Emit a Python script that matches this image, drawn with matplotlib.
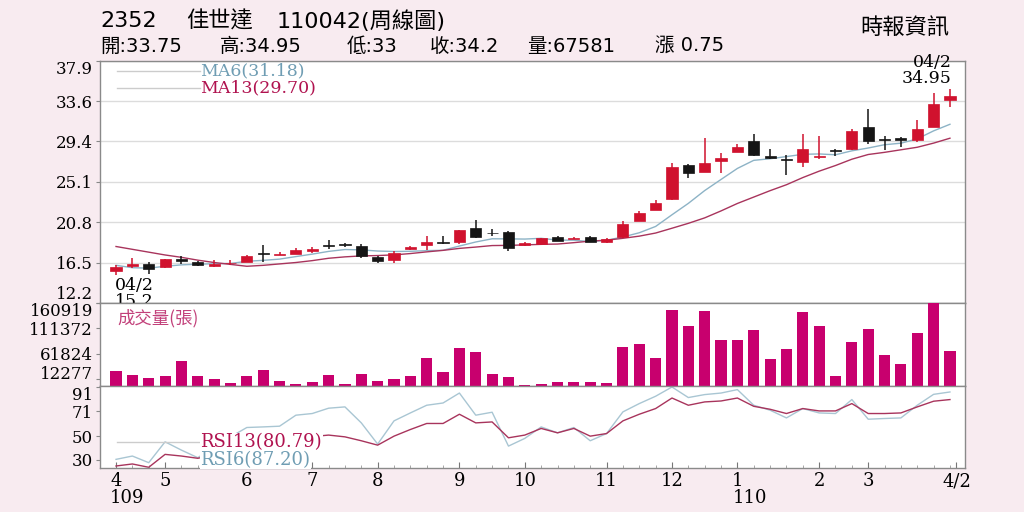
import numpy as np
import matplotlib
matplotlib.use("Agg")
import matplotlib.pyplot as plt
from matplotlib.transforms import blended_transform_factory

# ---- weekly candles (2352 佳世達, 109/04 ~ 110/04/02) ----
opens = [15.6, 16.15, 16.3, 16.0, 16.85, 16.6, 16.15, 16.4, 16.6, 17.5, 17.35, 17.45, 17.75,
         18.3, 18.4, 18.25, 17.1, 16.8, 17.9, 18.35, 18.7, 18.7, 20.15, 19.65, 19.75, 18.35,
         18.45, 19.25, 19.0, 19.2, 18.7, 19.2, 20.95, 22.1, 23.2, 26.85, 26.15, 27.3, 28.25,
         29.45, 27.85, 27.45, 27.2, 27.75, 28.4, 28.55, 30.9, 29.55, 29.75, 29.5, 30.9, 33.75]
highs = [16.25, 16.95, 16.6, 16.9, 17.2, 16.7, 16.8, 16.8, 17.3, 18.35, 17.6, 18.0, 18.15,
         18.9, 18.6, 18.5, 17.15, 17.75, 18.3, 19.35, 19.3, 19.95, 21.0, 20.1, 19.8, 18.65,
         19.15, 19.3, 19.25, 19.3, 19.15, 20.95, 22.0, 23.1, 27.1, 27.0, 29.7, 28.1, 29.1,
         30.2, 28.6, 27.9, 30.2, 29.9, 28.6, 30.7, 32.75, 29.9, 29.8, 31.6, 34.5, 34.95]
lows = [15.2, 15.9, 15.25, 15.95, 16.35, 16.1, 16.0, 16.2, 16.55, 16.6, 17.25, 17.4, 17.5,
        17.95, 18.2, 17.0, 16.4, 16.5, 17.8, 17.85, 18.45, 18.5, 19.05, 19.3, 17.75, 18.3,
        18.4, 18.75, 18.95, 18.65, 18.6, 19.1, 20.9, 22.05, 23.15, 25.5, 26.1, 26.0, 28.2,
        27.8, 27.5, 25.8, 26.6, 27.5, 27.8, 28.45, 29.1, 28.45, 28.8, 29.35, 30.85, 33.0]
closes = [16.05, 16.3, 15.8, 16.85, 16.65, 16.25, 16.35, 16.5, 17.2, 17.4, 17.45, 17.85, 17.95,
          18.25, 18.35, 17.2, 16.7, 17.55, 18.1, 18.65, 18.6, 19.9, 19.25, 19.6, 18.05, 18.55,
          19.05, 18.8, 19.15, 18.7, 18.95, 20.6, 21.75, 22.8, 26.6, 26.0, 27.1, 27.65, 28.8,
          27.95, 27.6, 27.4, 28.55, 27.85, 28.3, 30.45, 29.4, 29.5, 29.5, 30.65, 33.35, 34.2]

ma6 = [16.2, 15.95, 15.9, 16.1, 16.25, 16.32, 16.37, 16.4, 16.63, 16.73, 16.86, 17.13, 17.39,
       17.68, 17.88, 17.84, 17.72, 17.67, 17.69, 17.76, 17.8, 18.25, 18.68, 19.02, 19.01, 18.99,
       19.07, 18.88, 18.87, 18.72, 18.87, 19.21, 19.66, 20.33, 21.57, 22.78, 24.14, 25.32, 26.49,
       27.35, 27.52, 27.75, 27.99, 28.03, 27.94, 28.36, 28.66, 29.01, 29.17, 29.63, 30.48, 31.18]
ma13 = [18.2, 17.9, 17.6, 17.3, 17.05, 16.75, 16.5, 16.3, 16.1, 16.2, 16.35, 16.5, 16.7,
        16.95, 17.1, 17.2, 17.24, 17.31, 17.45, 17.63, 17.79, 18.0, 18.14, 18.3, 18.32, 18.37,
        18.43, 18.46, 18.61, 18.77, 18.87, 19.07, 19.3, 19.63, 20.14, 20.66, 21.24, 21.98, 22.77,
        23.45, 24.13, 24.76, 25.52, 26.2, 26.8, 27.47, 27.97, 28.2, 28.47, 28.74, 29.18, 29.7]

volumes = [28600, 20800, 14400, 19500, 48000, 18900, 12400, 4700, 18300, 31100, 8600, 2700, 6600,
           20800, 2700, 22200, 9700, 13600, 18900, 53300, 26100, 72800, 65600, 23300, 17500, 1900,
           3900, 6600, 7800, 6600, 5300, 75900, 81100, 53300, 146700, 116700, 145900, 88900, 88900,
           108400, 52000, 70800, 144000, 116200, 18900, 85600, 110900, 60300, 41600, 102000,
           160919, 67581]

rsi6 = [30.3, 33.1, 27.5, 45.1, 38.1, 31.7, 41.0, 49.3, 57.2, 57.7, 58.3, 67.6, 69.0, 73.5, 74.6,
        61.1, 43.2, 62.8, 69.5, 76.0, 77.9, 86.3, 67.6, 70.1, 41.5, 48.0, 57.7, 52.7, 57.2, 46.0,
        52.1, 70.4, 77.4, 83.6, 91.4, 82.5, 85.0, 86.3, 89.2, 76.0, 71.8, 65.3, 73.2, 69.5, 69.0,
        80.8, 64.2, 64.8, 65.3, 76.0, 85.2, 87.2]
rsi13 = [24.7, 26.4, 23.6, 34.5, 33.1, 31.2, 34.0, 38.0, 43.0, 45.0, 46.0, 48.5, 49.5, 50.8, 49.3,
         46.0, 42.3, 49.9, 55.5, 60.6, 60.6, 68.4, 61.1, 61.9, 48.5, 50.8, 56.4, 52.7, 56.4, 49.9,
         52.1, 62.8, 68.4, 73.2, 82.1, 76.0, 78.8, 79.6, 82.1, 75.1, 72.6, 69.0, 73.2, 71.2, 71.2,
         77.4, 69.0, 69.0, 69.5, 74.6, 79.4, 80.79]

price_ticks = [12.2, 16.5, 20.8, 25.1, 29.4, 33.6, 37.9]
vol_ticks = [12277, 61824, 111372, 160919]
rsi_ticks = [30, 50, 71, 91]
month_pos = [0, 3, 8, 12, 16, 21, 25, 30, 34, 38, 43, 46, 51.4]
month_labels = ["4", "5", "6", "7", "8", "9", "10", "11", "12", "1", "2", "3", "4/2"]

# ---- styles ----
BG = "#f8ebf0"
RED = "#d0122e"
BLACK = "#151515"
MA6_C = "#8db3c6"
MA13_C = "#a8345c"
VOL_C = "#c8006e"
SERIF = "DejaVu Serif"
CJK = ["DejaVu Sans", "Noto Sans CJK TC"]
TICK_FS = 12

x = np.arange(len(closes))
o = np.array(opens)
c = np.array(closes)
up = c >= o
colors = np.where(up, RED, BLACK)

fig = plt.figure(figsize=(10.24, 5.12), dpi=100, facecolor=BG)
L, W = 100 / 1024, 865 / 1024
ax_p = fig.add_axes([L, 1 - 303 / 512, W, 242 / 512])
ax_v = fig.add_axes([L, 1 - 385.7 / 512, W, 82.7 / 512], sharex=ax_p)
ax_r = fig.add_axes([L, 1 - 468 / 512, W, 82.3 / 512], sharex=ax_p)

for ax in (ax_p, ax_v, ax_r):
    ax.set_facecolor("white")
    for s in ax.spines.values():
        s.set_color("#8a8a8a")
        s.set_linewidth(1)
    ax.tick_params(axis="y", length=3, color="#888888", pad=2)

ax_p.set_xlim(-0.98, 51.92)

# ---- price panel ----
ax_p.set_ylim(12.2, 37.9)
ax_p.set_yticks(price_ticks)
ax_p.set_yticklabels([f"{t:.1f}" for t in price_ticks], family=SERIF, fontsize=TICK_FS)
ax_p.grid(axis="y", color="#dcdcdc", linewidth=1)
ax_p.set_axisbelow(True)
ax_p.tick_params(axis="x", length=0, labelbottom=False)

ax_p.vlines(x, lows, highs, colors=colors, linewidth=1.1, zorder=3)
body_h = np.maximum(np.abs(c - o), 0.07)
ax_p.bar(x, body_h, bottom=np.minimum(o, c), width=0.68, color=colors,
         edgecolor=colors, linewidth=0.5, zorder=4)
ax_p.plot(x, ma6, color=MA6_C, linewidth=1.0, zorder=2)
ax_p.plot(x, ma13, color=MA13_C, linewidth=1.0, zorder=2)

ax_p.plot([0.02, 0.116], [0.958, 0.958], transform=ax_p.transAxes, color="#cccccc", lw=1)
ax_p.plot([0.02, 0.116], [0.89, 0.89], transform=ax_p.transAxes, color="#cccccc", lw=1)
ax_p.text(0.116, 0.958, "MA6(31.18)", transform=ax_p.transAxes, family=SERIF,
          fontsize=12.5, color="#6f9db3", va="center", ha="left")
ax_p.text(0.116, 0.89, "MA13(29.70)", transform=ax_p.transAxes, family=SERIF,
          fontsize=12.5, color="#b0124f", va="center", ha="left")

# min / max notes
ax_p.text(-0.08, 14.95, "04/2\n15.2", family=SERIF, fontsize=12.5, ha="left", va="top",
          linespacing=0.95, clip_on=False)
ax_p.text(51.1, 35.15, "04/2\n34.95", family=SERIF, fontsize=12.5, ha="right", va="bottom",
          multialignment="right", linespacing=0.95, clip_on=False)

yl = ax_p.get_yticklabels()
yl[0].set_va("bottom")
yl[-1].set_va("top")

# ---- volume panel ----
ax_v.set_ylim(0, 160919)
ax_v.bar(x, volumes, width=0.68, color=VOL_C, zorder=3)
ax_v.set_yticks(vol_ticks)
ax_v.set_yticklabels([str(t) for t in vol_ticks], family=SERIF, fontsize=TICK_FS)
ax_v.tick_params(axis="x", length=0, labelbottom=False)
vl = ax_v.get_yticklabels()
vl[0].set_va("baseline")
vl[-1].set_va("top")
ax_v.text(0.02, 0.82, "成交量(張)", transform=ax_v.transAxes, family=["Noto Sans CJK TC"],
          fontsize=12.5, color="#c2407a", va="center", ha="left")

# ---- RSI panel ----
ax_r.set_ylim(23, 92.5)
ax_r.plot(x, rsi6, color="#a9c6d3", linewidth=1.0, zorder=2)
ax_r.plot(x, rsi13, color=MA13_C, linewidth=1.0, zorder=2)
ax_r.set_yticks(rsi_ticks)
ax_r.set_yticklabels([str(t) for t in rsi_ticks], family=SERIF, fontsize=TICK_FS)
rl = ax_r.get_yticklabels()
rl[-1].set_va("top")

ax_r.plot([0.02, 0.116], [0.31, 0.31], transform=ax_r.transAxes, color="#cccccc", lw=1, zorder=3)
ax_r.text(0.116, 0.31, "RSI13(80.79)", transform=ax_r.transAxes, family=SERIF, fontsize=13,
          color="#b0124f", va="center", ha="left", zorder=5,
          bbox=dict(facecolor="white", edgecolor="none", pad=0.5))
ax_r.text(0.116, 0.10, "RSI6(87.20)", transform=ax_r.transAxes, family=SERIF, fontsize=13,
          color="#6f9db3", va="center", ha="left", zorder=5,
          bbox=dict(facecolor="white", edgecolor="none", pad=0.5))

ax_r.set_xticks(month_pos)
ax_r.set_xticklabels(month_labels, family=SERIF, fontsize=13)
ax_r.set_xticks(x, minor=True)
ax_r.tick_params(axis="x", which="major", direction="in", length=4, color="#777777", pad=3)
ax_r.tick_params(axis="x", which="minor", direction="in", length=2, color="#999999")
tr = blended_transform_factory(ax_r.transData, ax_r.transAxes)
ax_r.text(-0.4, -0.36, "109", transform=tr, family=SERIF, fontsize=13, ha="left", va="center")
ax_r.text(37.7, -0.36, "110", transform=tr, family=SERIF, fontsize=13, ha="left", va="center")

# ---- header ----
def px(xp, yp):
    return xp / 1024, 1 - yp / 512

fig.text(*px(100, 21), "2352", family=CJK, fontsize=16, va="center", ha="left")
fig.text(*px(186, 21), "佳世達", family=CJK, fontsize=16, va="center", ha="left")
fig.text(*px(277, 21), "110042(周線圖)", family=CJK, fontsize=16, va="center", ha="left")

head2 = ["開:33.75", "高:34.95", "低:33", "收:34.2", "量:67581", "漲 0.75"]
head2_x = [100, 220, 347, 430, 527, 655]
for t, xp in zip(head2, head2_x):
    fig.text(*px(xp, 46), t, family=CJK, fontsize=14, va="center", ha="left")

fig.text(*px(905, 27), "時報資訊", family=["Noto Sans CJK TC"], fontsize=16,
         va="center", ha="center")

fig.savefig("out.png", dpi=100, facecolor=BG)
